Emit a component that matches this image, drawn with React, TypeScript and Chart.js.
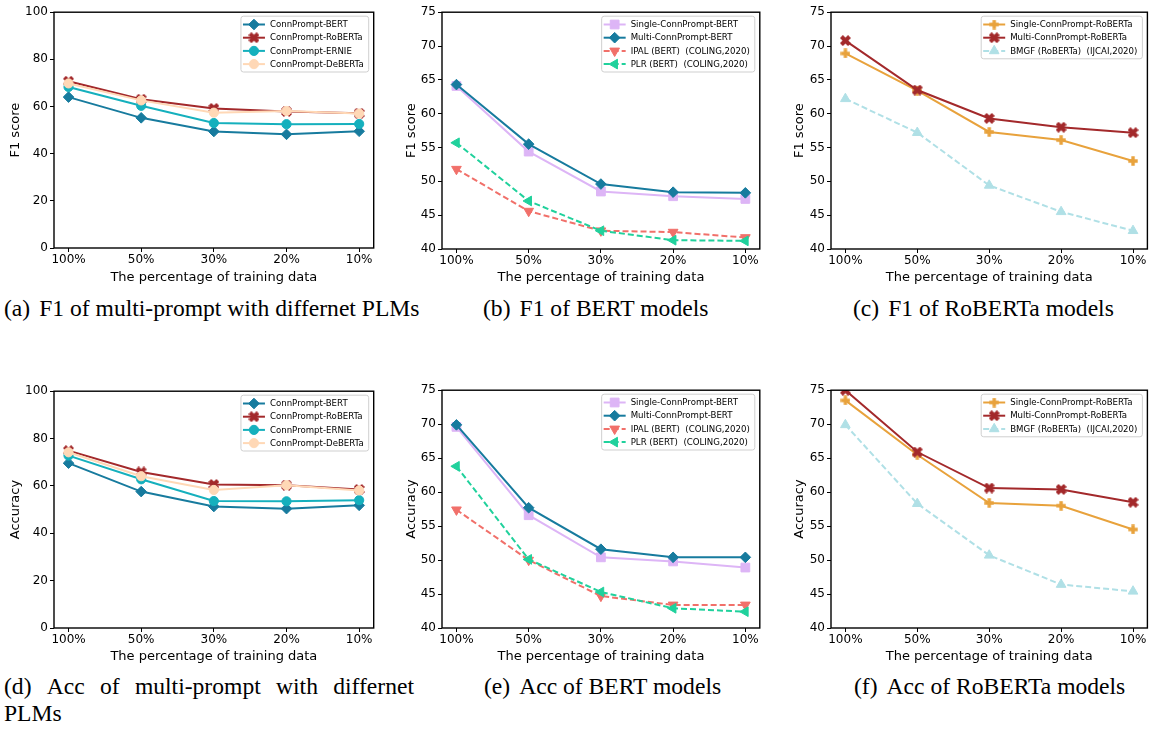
import React, { useEffect, useRef } from 'react';
import { Chart, registerables } from 'chart.js';
import { drawPoint } from 'chart.js/helpers';

Chart.register(...registerables);

// ---------- data ----------
const categories = ['100%', '50%', '30%', '20%', '10%'];
const yTicksWide = [0, 20, 40, 60, 80, 100];
const yTicksNarrow = [40, 45, 50, 55, 60, 65, 70, 75];

// (a) F1 of multi-prompt with different PLMs
const f1BertPLM = [64.0, 55.2, 49.4, 48.2, 49.5];
const f1RobertaPLM = [70.7, 63.1, 59.2, 57.9, 57.1];
const f1ErniePLM = [68.3, 60.3, 53.0, 52.5, 52.6];
const f1DebertaPLM = [69.8, 62.6, 57.4, 58.1, 57.0];
// (b) F1 of BERT models
const f1SingleBert = [64.1, 54.4, 48.5, 47.8, 47.4];
const f1MultiBert = [64.3, 55.5, 49.6, 48.4, 48.3];
const f1Ipal = [51.8, 45.6, 42.7, 42.5, 41.7];
const f1Plr = [55.7, 47.1, 42.7, 41.3, 41.2];
// (c) F1 of RoBERTa models
const f1SingleRoberta = [68.9, 63.4, 57.3, 56.1, 53.0];
const f1MultiRoberta = [70.8, 63.5, 59.3, 58.0, 57.2];
const f1Bmgf = [62.2, 57.2, 49.4, 45.5, 42.7];
// (d) Acc of multi-prompt with different PLMs
const accBertPLM = [69.6, 57.6, 51.3, 50.4, 51.8];
const accRobertaPLM = [74.9, 65.9, 60.6, 60.3, 58.5];
const accErniePLM = [72.8, 62.8, 53.6, 53.5, 54.0];
const accDebertaPLM = [74.2, 64.1, 58.3, 60.3, 58.1];
// (e) Acc of BERT models
const accSingleBert = [69.6, 56.6, 50.4, 49.8, 48.9];
const accMultiBert = [69.9, 57.7, 51.6, 50.4, 50.4];
const accIpal = [57.4, 50.0, 44.7, 43.4, 43.4];
const accPlr = [63.8, 50.1, 45.3, 42.9, 42.4];
// (f) Acc of RoBERTa models
const accSingleRoberta = [73.5, 65.5, 58.4, 58.0, 54.5];
const accMultiRoberta = [75.0, 65.9, 60.6, 60.4, 58.5];
const accBmgf = [69.9, 58.3, 50.7, 46.4, 45.4];

// ---------- styles ----------
type StyleKey =
  | 'bert' | 'roberta' | 'ernie' | 'deberta' | 'singleBert'
  | 'ipal' | 'plr' | 'singleRoberta' | 'bmgf';

const STYLE: Record<StyleKey, { color: string; marker: string; radius: number; rotation?: number; dash?: boolean }> = {
  bert: { color: '#177b9e', marker: 'rectRot', radius: 5.3 },
  roberta: { color: '#a3292b', marker: 'X', radius: 5 },
  ernie: { color: '#15b0bd', marker: 'circle', radius: 4.6 },
  deberta: { color: '#ffd8b6', marker: 'circle', radius: 4.6 },
  singleBert: { color: '#ddb5f6', marker: 'rect', radius: 6.2 },
  ipal: { color: '#f1706a', marker: 'triangle', radius: 5.6, rotation: 180, dash: true },
  plr: { color: '#20d19c', marker: 'triangle', radius: 5.6, rotation: -90, dash: true },
  singleRoberta: { color: '#e8a23c', marker: 'P', radius: 5 },
  bmgf: { color: '#b0e0e6', marker: 'triangle', radius: 5.6, rotation: 0, dash: true },
};

type Series = { label: string; data: number[]; style: StyleKey };

const markerCache: Record<string, HTMLCanvasElement> = {};
function makeMarker(kind: string, color: string, size: number): HTMLCanvasElement {
  const key = kind + color + size;
  if (markerCache[key]) return markerCache[key];
  const dpr = window.devicePixelRatio || 1;
  const c = document.createElement('canvas');
  c.width = size * dpr;
  c.height = size * dpr;
  const g = c.getContext('2d')!;
  g.scale(dpr, dpr);
  g.translate(size / 2, size / 2);
  let h = size / 2 - 0.3;
  if (kind === 'X') {
    g.rotate(Math.PI / 4);
    h = size * 0.52;
  }
  const t = h * 0.36;
  const pts = [
    [-t, -h], [t, -h], [t, -t], [h, -t], [h, t], [t, t],
    [t, h], [-t, h], [-t, t], [-h, t], [-h, -t], [-t, -t],
  ];
  g.beginPath();
  pts.forEach(([x, y], i) => (i ? g.lineTo(x, y) : g.moveTo(x, y)));
  g.closePath();
  g.fillStyle = color;
  g.fill();
  const out = c as any;
  Object.defineProperty(out, 'width', { value: size, configurable: true });
  Object.defineProperty(out, 'height', { value: size, configurable: true });
  markerCache[key] = c;
  return c;
}

function pointStyleFor(k: StyleKey): any {
  const s = STYLE[k];
  if (s.marker === 'X') return makeMarker('X', s.color, 11);
  if (s.marker === 'P') return makeMarker('P', s.color, 10);
  return s.marker;
}

const FONT = 'DejaVu Sans';
const SERIF = '"Liberation Serif", "Times New Roman", serif';
const CAP_SIZE = 23.6;

const framePlugin = {
  id: 'frameAndLegend',
  afterDatasetsDraw(chart: any) {
    const { ctx, chartArea: a } = chart;
    ctx.save();
    ctx.strokeStyle = '#000';
    ctx.lineWidth = 1.4;
    ctx.strokeRect(a.left, a.top, a.right - a.left, a.bottom - a.top);

    // legend
    const items = chart.data.datasets;
    ctx.font = `8.6px "${FONT}"`;
    const textW = Math.max(...items.map((d: any) => ctx.measureText(d.label).width));
    const rowH = 13.2;
    const w = 29 + textW + 5;
    const h = items.length * rowH + 3;
    const x0 = a.right - 5 - w;
    const y0 = a.top + 4;
    ctx.beginPath();
    if (ctx.roundRect) ctx.roundRect(x0, y0, w, h, 2.5);
    else ctx.rect(x0, y0, w, h);
    ctx.fillStyle = 'rgba(255,255,255,0.85)';
    ctx.fill();
    ctx.strokeStyle = '#cfcfcf';
    ctx.lineWidth = 1;
    ctx.stroke();
    items.forEach((d: any, i: number) => {
      const yy = y0 + 8.3 + i * rowH;
      ctx.save();
      ctx.strokeStyle = d.borderColor;
      ctx.lineWidth = 2;
      ctx.setLineDash(d.borderDash || []);
      ctx.beginPath();
      ctx.moveTo(x0 + 2, yy);
      ctx.lineTo(x0 + 24, yy);
      ctx.stroke();
      ctx.setLineDash([]);
      ctx.fillStyle = d.pointBackgroundColor;
      ctx.strokeStyle = d.pointBorderColor;
      ctx.lineWidth = d.pointBorderWidth;
      drawPoint(ctx, {
        pointStyle: d.pointStyle,
        rotation: d.pointRotation || 0,
        radius: d.pointRadius,
        borderWidth: d.pointBorderWidth,
      } as any, x0 + 13, yy);
      ctx.restore();
      ctx.fillStyle = '#000';
      ctx.textBaseline = 'middle';
      ctx.textAlign = 'left';
      ctx.font = `8.6px "${FONT}"`;
      ctx.fillText(d.label, x0 + 29, yy + 0.5);
    });
    ctx.restore();
  },
};

type PanelProps = {
  series: Series[];
  yTicks: number[];
  yTitle: string;
  L: number; T: number; R: number; B: number;
  yTitleX: number;
  xTitleY: number;
};

function Panel(p: PanelProps) {
  const ref = useRef<HTMLCanvasElement>(null);
  const cx = Math.round(p.yTitleX - 7.8);
  const cy = p.T - 8;
  const cw = p.R + 4 - cx;
  const ch = Math.round(p.xTitleY + 7.8) - cy;
  const yAxisW = p.L - cx;
  const xAxisH = cy + ch - p.B;

  useEffect(() => {
    const n = p.series.length;
    const chart = new Chart(ref.current!, {
      type: 'line',
      data: {
        datasets: p.series.map((s, i) => {
          const st = STYLE[s.style];
          return {
            label: s.label,
            data: s.data.map((v, j) => ({ x: j, y: v })),
            borderColor: st.color,
            backgroundColor: st.color,
            borderWidth: 2,
            borderDash: st.dash ? [6, 3] : [],
            pointStyle: pointStyleFor(s.style),
            pointRadius: st.radius,
            pointRotation: st.rotation || 0,
            pointBorderWidth: 1,
            pointBorderColor: st.color,
            pointBackgroundColor: st.color,
            tension: 0,
            fill: false,
            order: n - i,
          } as any;
        }),
      },
      options: {
        responsive: false,
        maintainAspectRatio: false,
        animation: false,
        events: [],
        layout: { padding: { top: 8, right: 4, left: 0, bottom: 0 } },
        plugins: { legend: { display: false }, tooltip: { enabled: false } },
        scales: {
          x: {
            type: 'linear',
            min: -0.2,
            max: 4.2,
            afterBuildTicks: (s: any) => {
              s.ticks = categories.map((_, i) => ({ value: i }));
            },
            afterFit: (s: any) => {
              s.height = xAxisH;
            },
            ticks: {
              callback: (v: any) => categories[v as number],
              font: { family: FONT, size: 12 },
              color: '#000',
              maxRotation: 0,
              autoSkip: false,
              padding: 1,
            },
            grid: { display: true, drawOnChartArea: false, drawTicks: true, tickLength: 4, color: '#000', lineWidth: 1 },
            border: { display: false },
            title: {
              display: true,
              text: 'The percentage of training data',
              font: { family: FONT, size: 13, lineHeight: 1.2 },
              color: '#000',
              padding: 0,
            },
          },
          y: {
            type: 'linear',
            min: p.yTicks[0],
            max: p.yTicks[p.yTicks.length - 1],
            afterBuildTicks: (s: any) => {
              s.ticks = p.yTicks.map((v) => ({ value: v }));
            },
            afterFit: (s: any) => {
              s.width = yAxisW;
            },
            ticks: {
              font: { family: FONT, size: 12 },
              color: '#000',
              padding: 2,
              callback: (v: any) => String(v),
            },
            grid: { display: true, drawOnChartArea: false, drawTicks: true, tickLength: 4, color: '#000', lineWidth: 1 },
            border: { display: false },
            title: {
              display: true,
              text: p.yTitle,
              font: { family: FONT, size: 13, lineHeight: 1.2 },
              color: '#000',
              padding: 0,
            },
          },
        },
      } as any,
      plugins: [framePlugin],
    });
    return () => chart.destroy();
  }, []);

  return (
    <canvas
      ref={ref}
      width={cw}
      height={ch}
      style={{ position: 'absolute', left: cx, top: cy, width: cw, height: ch }}
    />
  );
}

const capStyle: React.CSSProperties = {
  position: 'absolute',
  fontFamily: SERIF,
  fontSize: CAP_SIZE,
  lineHeight: `${CAP_SIZE}px`,
  whiteSpace: 'nowrap',
  color: '#000',
};

function Caption({ label, text, left, top }: { label: string; text: string; left: number; top: number }) {
  return (
    <div style={{ ...capStyle, left, top }}>
      <span style={{ marginRight: 9 }}>{label}</span>
      {text}
    </div>
  );
}

export default function App() {
  const seriesA: Series[] = [
    { label: 'ConnPrompt-BERT', data: f1BertPLM, style: 'bert' },
    { label: 'ConnPrompt-RoBERTa', data: f1RobertaPLM, style: 'roberta' },
    { label: 'ConnPrompt-ERNIE', data: f1ErniePLM, style: 'ernie' },
    { label: 'ConnPrompt-DeBERTa', data: f1DebertaPLM, style: 'deberta' },
  ];
  const seriesB: Series[] = [
    { label: 'Single-ConnPrompt-BERT', data: f1SingleBert, style: 'singleBert' },
    { label: 'Multi-ConnPrompt-BERT', data: f1MultiBert, style: 'bert' },
    { label: 'IPAL (BERT)  (COLING,2020)', data: f1Ipal, style: 'ipal' },
    { label: 'PLR (BERT)  (COLING,2020)', data: f1Plr, style: 'plr' },
  ];
  const seriesC: Series[] = [
    { label: 'Single-ConnPrompt-RoBERTa', data: f1SingleRoberta, style: 'singleRoberta' },
    { label: 'Multi-ConnPrompt-RoBERTa', data: f1MultiRoberta, style: 'roberta' },
    { label: 'BMGF (RoBERTa)  (IJCAI,2020)', data: f1Bmgf, style: 'bmgf' },
  ];
  const seriesD: Series[] = [
    { label: 'ConnPrompt-BERT', data: accBertPLM, style: 'bert' },
    { label: 'ConnPrompt-RoBERTa', data: accRobertaPLM, style: 'roberta' },
    { label: 'ConnPrompt-ERNIE', data: accErniePLM, style: 'ernie' },
    { label: 'ConnPrompt-DeBERTa', data: accDebertaPLM, style: 'deberta' },
  ];
  const seriesE: Series[] = [
    { label: 'Single-ConnPrompt-BERT', data: accSingleBert, style: 'singleBert' },
    { label: 'Multi-ConnPrompt-BERT', data: accMultiBert, style: 'bert' },
    { label: 'IPAL (BERT)  (COLING,2020)', data: accIpal, style: 'ipal' },
    { label: 'PLR (BERT)  (COLING,2020)', data: accPlr, style: 'plr' },
  ];
  const seriesF: Series[] = [
    { label: 'Single-ConnPrompt-RoBERTa', data: accSingleRoberta, style: 'singleRoberta' },
    { label: 'Multi-ConnPrompt-RoBERTa', data: accMultiRoberta, style: 'roberta' },
    { label: 'BMGF (RoBERTa)  (IJCAI,2020)', data: accBmgf, style: 'bmgf' },
  ];

  const dWords = ['(d)', 'Acc', 'of', 'multi-prompt', 'with', 'differnet'];

  return (
    <div
      style={{
        position: 'absolute',
        left: 0,
        top: 0,
        width: 1154,
        height: 729,
        background: '#fff',
        overflow: 'hidden',
      }}
    >
      <Panel series={seriesA} yTicks={yTicksWide} yTitle="F1 score" L={54} T={11} R={376} B={248} yTitleX={16} xTitleY={277} />
      <Panel series={seriesB} yTicks={yTicksNarrow} yTitle="F1 score" L={442} T={11} R={763} B={249} yTitleX={412} xTitleY={277} />
      <Panel series={seriesC} yTicks={yTicksNarrow} yTitle="F1 score" L={831} T={11} R={1150} B={249} yTitleX={800} xTitleY={277} />
      <Panel series={seriesD} yTicks={yTicksWide} yTitle="Accuracy" L={54} T={390} R={376} B={628} yTitleX={16} xTitleY={656} />
      <Panel series={seriesE} yTicks={yTicksNarrow} yTitle="Accuracy" L={442} T={389} R={763} B={628} yTitleX={412} xTitleY={656} />
      <Panel series={seriesF} yTicks={yTicksNarrow} yTitle="Accuracy" L={831} T={389} R={1150} B={628} yTitleX={800} xTitleY={656} />

      <Caption label="(a)" text="F1 of multi-prompt with differnet PLMs" left={4} top={297} />
      <Caption label="(b)" text="F1 of BERT models" left={483} top={297} />
      <Caption label="(c)" text="F1 of RoBERTa models" left={853} top={297} />
      <div
        style={{
          ...capStyle,
          left: 4,
          top: 675,
          width: 410,
          display: 'flex',
          justifyContent: 'space-between',
        }}
      >
        {dWords.map((w) => (
          <span key={w}>{w}</span>
        ))}
      </div>
      <div style={{ ...capStyle, left: 4, top: 702 }}>PLMs</div>
      <Caption label="(e)" text="Acc of BERT models" left={484} top={675} />
      <Caption label="(f)" text="Acc of RoBERTa models" left={854} top={675} />
    </div>
  );
}
